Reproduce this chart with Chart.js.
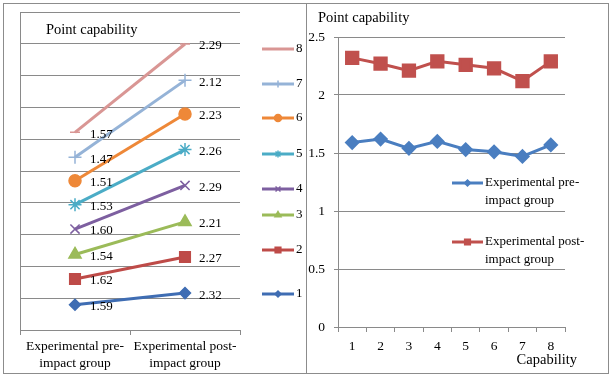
<!DOCTYPE html>
<html>
<head>
<meta charset="utf-8">
<script src="https://cdn.jsdelivr.net/npm/chart.js@4/dist/chart.umd.min.js"></script>
<style>
  html,body{margin:0;padding:0;background:#fff;}
  body{width:613px;height:377px;position:relative;overflow:hidden;}
  .box{position:absolute;border:1px solid #8c8c8c;box-sizing:border-box;}
  canvas{position:absolute;top:0;}
</style>
</head>
<body>
<div class="box" style="left:3px;top:3px;width:304px;height:371px;"></div>
<div class="box" style="left:306px;top:3px;width:303px;height:371px;"></div>
<canvas id="left" width="306" height="377" style="left:0;width:306px;height:377px;"></canvas>
<canvas id="right" width="307" height="377" style="left:306px;width:307px;height:377px;"></canvas>
<script>
// ---- data ----
const groupLabels = [['Experimental pre-', 'impact group'], ['Experimental post-', 'impact group']];
const capabilities = ['1', '2', '3', '4', '5', '6', '7', '8'];
const preValues  = [1.59, 1.62, 1.54, 1.60, 1.53, 1.51, 1.47, 1.57];
const postValues = [2.32, 2.27, 2.21, 2.29, 2.26, 2.23, 2.12, 2.29];
const preLabel = ['Experimental pre-', 'impact group'];
const postLabel = ['Experimental post-', 'impact group'];
const titleText = 'Point capability';
const xTitleText = 'Capability';
const yTicksRight = [0, 0.5, 1, 1.5, 2, 2.5];

// ---- styles ----
const serif = '"Liberation Serif", "Times New Roman", serif';
const gridColor = '#8a8a8a';
const seriesColors = ['#3F6DB3', '#BE4B48', '#9BBB59', '#7D5FA0', '#4BACC6', '#EE8838', '#95B3D7', '#D99694'];
const seriesStyles = ['rectRot', 'rect', 'triangle', 'crossRot', 'star', 'circle', 'cross', 'line'];
const seriesRadius = [5.5, 7.5, 7, 6.5, 6.5, 6, 6.5, 5];
const legendRadius = [3, 4, 3.5, 3.5, 3.5, 3.5, 3.5, 0];
const legendYLeft = [294, 250, 215, 189, 154, 118, 84, 49];

function drawMarker(ctx, style, radius, color, x, y) {
  if (!radius) return;
  ctx.save();
  ctx.fillStyle = color; ctx.strokeStyle = color; ctx.lineWidth = 1.5;
  Chart.helpers.drawPoint(ctx, {pointStyle: style, radius: radius, borderWidth: 1.5, rotation: 0}, x, y);
  ctx.restore();
}

const textPlugin = {
  id: 'extraText',
  afterDraw(chart, args, opts) {
    const ctx = chart.ctx;
    (opts.items || []).forEach(it => {
      ctx.save();
      ctx.font = it.font;
      ctx.fillStyle = '#000';
      ctx.textAlign = it.align || 'left';
      ctx.textBaseline = 'middle';
      ctx.fillText(it.text, it.x, it.y);
      ctx.restore();
    });
  }
};

const valueLabelPlugin = {
  id: 'valueLabels',
  afterDatasetsDraw(chart, args, opts) {
    if (!opts.enabled) return;
    const ctx = chart.ctx;
    ctx.save();
    ctx.font = '13px ' + serif;
    ctx.fillStyle = '#000';
    ctx.textAlign = 'left';
    ctx.textBaseline = 'middle';
    chart.data.datasets.forEach((ds, di) => {
      const meta = chart.getDatasetMeta(di);
      meta.data.forEach((pt, i) => {
        const dx = i === 0 ? 15 : 14;
        ctx.fillText(ds.data[i].toFixed(2), pt.x + dx, pt.y + 2);
      });
    });
    ctx.restore();
  }
};

const customLegendPlugin = {
  id: 'customLegend',
  afterDraw(chart, args, opts) {
    const ctx = chart.ctx;
    chart.data.datasets.forEach((ds, di) => {
      const y = opts.ys[di];
      const x0 = opts.x0, x1 = opts.x1;
      ctx.save();
      ctx.strokeStyle = ds.borderColor;
      ctx.lineWidth = 3;
      ctx.beginPath(); ctx.moveTo(x0, y); ctx.lineTo(x1, y); ctx.stroke();
      ctx.restore();
      drawMarker(ctx, ds.pointStyle, opts.radii[di], ds.borderColor, (x0 + x1) / 2, y);
      ctx.save();
      ctx.font = '13px ' + serif;
      ctx.fillStyle = '#000';
      ctx.textAlign = 'left';
      ctx.textBaseline = 'middle';
      const lines = Array.isArray(ds.legendText) ? ds.legendText : [ds.label];
      lines.forEach((ln, k) => ctx.fillText(ln, x1 + 2, y + k * 17.5));
      ctx.restore();
    });
  }
};

Chart.register(textPlugin, valueLabelPlugin, customLegendPlugin);

// ---- left chart: stacked slope lines ----
new Chart(document.getElementById('left'), {
  type: 'line',
  data: {
    labels: groupLabels,
    datasets: capabilities.map((c, i) => ({
      label: c,
      data: [preValues[i], postValues[i]],
      borderColor: seriesColors[i],
      backgroundColor: seriesColors[i],
      pointBackgroundColor: seriesColors[i],
      pointBorderColor: seriesColors[i],
      pointStyle: seriesStyles[i],
      pointRadius: seriesRadius[i],
      pointBorderWidth: 1.5,
      borderWidth: 3,
      fill: false,
      tension: 0
    }))
  },
  options: {
    responsive: false, animation: false, devicePixelRatio: 1,
    layout: {padding: {left: 20, top: 12, right: 66, bottom: 0}},
    plugins: {
      legend: {display: false}, tooltip: {enabled: false}, title: {display: false},
      valueLabels: {enabled: true},
      customLegend: {x0: 262, x1: 294, ys: legendYLeft, radii: legendRadius},
      extraText: {items: [{text: titleText, x: 46, y: 30, font: '14.5px ' + serif}]}
    },
    scales: {
      x: {
        offset: true,
        grid: {offset: true, drawOnChartArea: false, drawTicks: true, tickLength: 5, color: gridColor},
        border: {color: gridColor},
        ticks: {color: '#000', padding: 3, maxRotation: 0, autoSkip: false,
                font: {family: serif, size: 13.5, lineHeight: 1.25}},
        afterFit(s) { s.height = 47; }
      },
      y: {
        stacked: true, min: 0, max: 20,
        ticks: {display: false, stepSize: 2},
        grid: {color: gridColor, drawTicks: false},
        border: {color: gridColor},
        afterFit(s) { s.width = 0; }
      }
    }
  }
});

// ---- right chart ----
new Chart(document.getElementById('right'), {
  type: 'line',
  data: {
    labels: capabilities,
    datasets: [
      {label: 'Experimental pre-impact group', legendText: preLabel, data: preValues,
       borderColor: '#4A7EC0', backgroundColor: '#4A7EC0', pointStyle: 'rectRot', pointRadius: 5.5,
       pointBackgroundColor: '#4A7EC0', pointBorderColor: '#4A7EC0', borderWidth: 3, tension: 0, fill: false},
      {label: 'Experimental post-impact group', legendText: postLabel, data: postValues,
       borderColor: '#C0504D', backgroundColor: '#C0504D', pointStyle: 'rect', pointRadius: 8,
       pointBackgroundColor: '#C0504D', pointBorderColor: '#C0504D', borderWidth: 3, tension: 0, fill: false}
    ]
  },
  options: {
    responsive: false, animation: false, devicePixelRatio: 1,
    layout: {padding: {left: 0, top: 37, right: 48, bottom: 0}},
    plugins: {
      legend: {display: false}, tooltip: {enabled: false}, title: {display: false},
      valueLabels: {enabled: false},
      customLegend: {x0: 146, x1: 177, ys: [183, 242], radii: [3, 4]},
      extraText: {items: [
        {text: titleText, x: 12, y: 18, font: '14.5px ' + serif},
        {text: xTitleText, x: 271, y: 360, font: '14.5px ' + serif, align: 'right'}
      ]}
    },
    scales: {
      x: {
        offset: true,
        grid: {offset: true, drawOnChartArea: false, drawTicks: true, tickLength: 5, color: gridColor},
        border: {color: gridColor},
        ticks: {color: '#000', padding: 6, maxRotation: 0, autoSkip: false,
                font: {family: serif, size: 13.5, lineHeight: 1.25}},
        afterFit(s) { s.height = 50; }
      },
      y: {
        min: yTicksRight[0], max: yTicksRight[yTicksRight.length - 1],
        ticks: {stepSize: 0.5, color: '#000', padding: 9, font: {family: serif, size: 13.5},
                callback: v => String(v)},
        grid: {color: gridColor, drawTicks: true, tickLength: 4},
        border: {color: gridColor},
        afterFit(s) { s.width = 32; }
      }
    }
  }
});
</script>
</body>
</html>
